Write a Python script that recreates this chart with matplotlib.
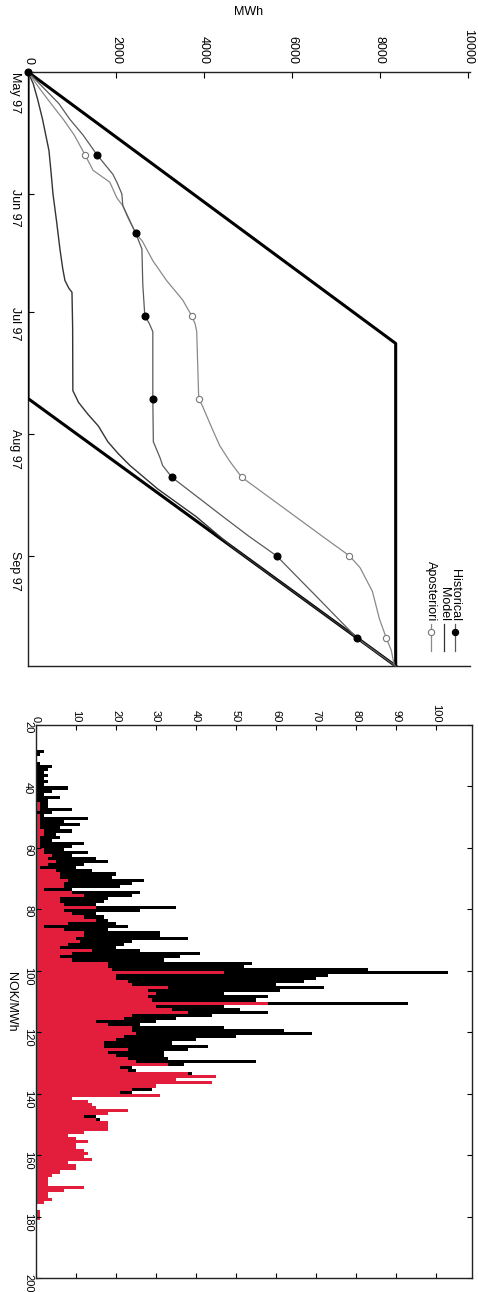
import numpy as np
import matplotlib
matplotlib.use('Agg')
import matplotlib.pyplot as plt

plt.rcParams['font.family'] = ['Liberation Sans', 'DejaVu Sans']

# ---- cumulative purchases (MWh) against days since 1 May 1997 ----
days_hist = [0, 4, 8, 12, 16, 21, 26, 28, 31, 34, 41, 45, 54, 62, 64, 66, 83, 94, 98, 100,
             103, 108, 113, 118, 123, 128, 133, 138, 144, 151]
mwh_hist = [0, 350, 700, 950, 1250, 1566, 1930, 2020, 2134, 2156, 2450, 2590, 2610, 2656, 2760,
            2838, 2838, 2850, 3000, 3060, 3269, 3850, 4430, 5020, 5652, 6090, 6530, 6966, 7491, 8360]

days_model = [0, 3, 7, 12, 20, 25, 31, 38, 45, 50, 53, 55, 56, 65, 81, 84, 87, 90, 94, 97,
              100, 106, 113, 121, 151]
mwh_model = [0, 120, 220, 330, 477, 520, 568, 650, 726, 790, 840, 930, 1000, 1015, 1020, 1150,
             1362, 1600, 1816, 2050, 2315, 2950, 3820, 4670, 8360]

days_apost = [0, 4, 8, 12, 16, 21, 25, 28, 32, 34, 37, 41, 43, 48, 53, 58, 62, 64, 66, 83, 85,
              91, 95, 99, 103, 108, 113, 118, 123, 126, 132, 139, 144, 147, 151]
mwh_apost = [0, 250, 520, 800, 1050, 1294, 1480, 1860, 2020, 2156, 2270, 2450, 2600, 2840, 3150,
             3520, 3723, 3800, 3836, 3882, 3970, 4200, 4360, 4590, 4858, 5470, 6080, 6690, 7309,
             7550, 7830, 7990, 8150, 8260, 8330]

marker_days = [0, 21, 41, 62, 83, 103, 123, 144]

upper_days = [0, 69, 151]
upper_mwh = [0, 8360, 8360]
lower_days = [0, 83, 151]
lower_mwh = [0, 0, 8360]

date_ticks = [0, 31, 61, 92, 123]
date_labels = ['May 97', 'Jun 97', 'Jul 97', 'Aug 97', 'Sep 97']

# ---- price histogram (count per 1 NOK/MWh bin, bins start at 27) ----
price_start = 27
count_all = [0, 2, 1, 0, 0, 1, 4, 3, 2, 3, 2, 3, 2, 8, 4, 2, 6, 3, 3, 3,
             9, 4, 2, 13, 7, 11, 6, 9, 5, 6, 4, 12, 9, 7, 13, 9, 15, 18, 12, 10,
             14, 20, 19, 27, 24, 21, 9, 26, 24, 18, 17, 15, 35, 26, 15, 17, 18, 20, 23, 18,
             31, 31, 38, 24, 22, 20, 26, 41, 36, 32, 54, 52, 83, 103, 73, 70, 67, 60, 72, 61,
             47, 58, 55, 93, 47, 51, 58, 44, 35, 30, 26, 47, 62, 69, 50, 40, 34, 43, 38, 32,
             32, 33, 55, 37, 24, 25, 39, 39, 35, 36, 30, 29, 24, 22, 9, 13, 14, 15, 23, 18,
             15, 16, 18, 18, 18, 12, 8, 10, 13, 10, 10, 12, 13, 12, 14, 8, 10, 10, 6, 4,
             3, 3, 3, 12, 7, 3, 3, 4, 2, 0, 0, 1, 1, 1, 0]
count_sub = [0, 0, 0, 0, 0, 0, 0, 0, 0, 0, 0, 0, 0, 0, 0, 0, 0, 0, 1, 1,
             1, 0, 1, 1, 1, 1, 1, 2, 2, 1, 1, 1, 1, 2, 2, 4, 3, 5, 3, 1,
             5, 6, 6, 8, 7, 7, 2, 9, 12, 6, 6, 7, 15, 7, 9, 12, 15, 8, 2, 7,
             12, 12, 10, 11, 8, 6, 14, 9, 6, 9, 18, 18, 19, 47, 20, 20, 23, 24, 33, 28,
             30, 28, 29, 58, 30, 34, 38, 24, 22, 15, 18, 24, 24, 25, 22, 20, 17, 17, 23, 18,
             20, 23, 25, 33, 21, 23, 38, 45, 35, 44, 30, 24, 21, 31, 9, 13, 14, 15, 23, 18,
             12, 15, 18, 18, 18, 12, 8, 10, 13, 10, 10, 12, 13, 12, 14, 8, 10, 10, 6, 4,
             3, 3, 3, 12, 7, 3, 3, 4, 2, 0, 0, 1, 1, 1, 0]
prices = np.arange(price_start, price_start + len(count_all))

W, H = 478, 1292
fig = plt.figure(figsize=(W / 100, H / 100), dpi=100)

# ================= top panel (drawn rotated: time runs down) =================
ax1 = fig.add_axes([28 / W, 1 - 666 / H, 442 / W, 594 / H])
ax1.plot(upper_mwh, upper_days, color='black', lw=2.2, zorder=3)
ax1.plot(lower_mwh, lower_days, color='black', lw=2.2, zorder=3)
ax1.plot(mwh_model, days_model, color='#333333', lw=1.0, zorder=4)

idx_a = [days_apost.index(d) for d in marker_days]
ax1.plot(mwh_apost, days_apost, color='#8a8a8a', lw=0.9, marker='o', ms=4.5,
         mfc='white', mec='#777777', mew=0.8, markevery=idx_a, zorder=4)
idx_h = [days_hist.index(d) for d in marker_days]
ax1.plot(mwh_hist, days_hist, color='#5a5a5a', lw=0.9, marker='o', ms=4.8,
         mfc='black', mec='black', markevery=idx_h, zorder=5, clip_on=False)

ax1.set_xlim(0, 10050)
ax1.set_ylim(151, 0)
ax1.xaxis.set_ticks_position('top')
ax1.set_xticks(range(0, 10001, 2000))
ax1.set_yticks(date_ticks)
ax1.set_yticklabels(date_labels)
ax1.tick_params(axis='x', top=True, bottom=False, labeltop=True, labelbottom=False,
                direction='in', length=4, pad=6, labelrotation=-90, labelsize=9)
ax1.tick_params(axis='y', left=True, right=False, direction='in', length=4, pad=5,
                labelrotation=-90, labelsize=9)
ax1.get_yticklabels()[0].set_va('top')
ax1.spines['right'].set_visible(False)
for s in ['top', 'bottom', 'left']:
    ax1.spines[s].set_linewidth(1.0)
    ax1.spines[s].set_color('#222222')
fig.text(249 / W, 1 - 12 / H, 'MWh', ha='center', va='center', fontsize=9)

# manual legend, rotated like the rest of the figure
leg = [('Historical', 0.966, '#5a5a5a', 'black', 'black'),
       ('Model', 0.942, '#333333', None, None),
       ('Aposteriori', 0.912, '#8a8a8a', 'white', '#777777')]
for name, xf, lc, fc, ec in leg:
    ax1.text(xf, 0.076, name, transform=ax1.transAxes, rotation=-90,
             ha='center', va='bottom', fontsize=9)
    ax1.plot([xf, xf], [0.071, 0.025], transform=ax1.transAxes, color=lc, lw=0.9)
    if fc is not None:
        ax1.plot([xf], [0.057], transform=ax1.transAxes, marker='o', ms=4.5,
                 mfc=fc, mec=ec, mew=0.8, color=lc)

# ================= bottom panel: price histogram (rotated) =================
ax2 = fig.add_axes([36 / W, 1 - 1278 / H, 436 / W, 553 / H])
ax2.barh(prices, count_all, height=1.0, align='edge', color='black', lw=0)
ax2.barh(prices, count_sub, height=1.0, align='edge', color='#e31d3c', lw=0)
ax2.set_xlim(0, 109)
ax2.set_ylim(200, 20)
ax2.set_xticks(range(0, 101, 10))
ax2.set_yticks(range(20, 201, 20))
ax2.xaxis.set_ticks_position('both')
ax2.tick_params(axis='x', top=True, bottom=True, labeltop=True, labelbottom=False,
                direction='in', length=3.5, pad=2, labelrotation=-90, labelsize=8)
ax2.tick_params(axis='y', left=True, right=True, direction='in', length=3.5, pad=2,
                labelrotation=-90, labelsize=8)
for s in ax2.spines.values():
    s.set_linewidth(1.0)
    s.set_color('#222222')
ax2.text(-25 / 436, 0.5, 'NOK/MWh', transform=ax2.transAxes, rotation=-90,
         ha='center', va='center', fontsize=9)

fig.savefig('out.png', dpi=100)
